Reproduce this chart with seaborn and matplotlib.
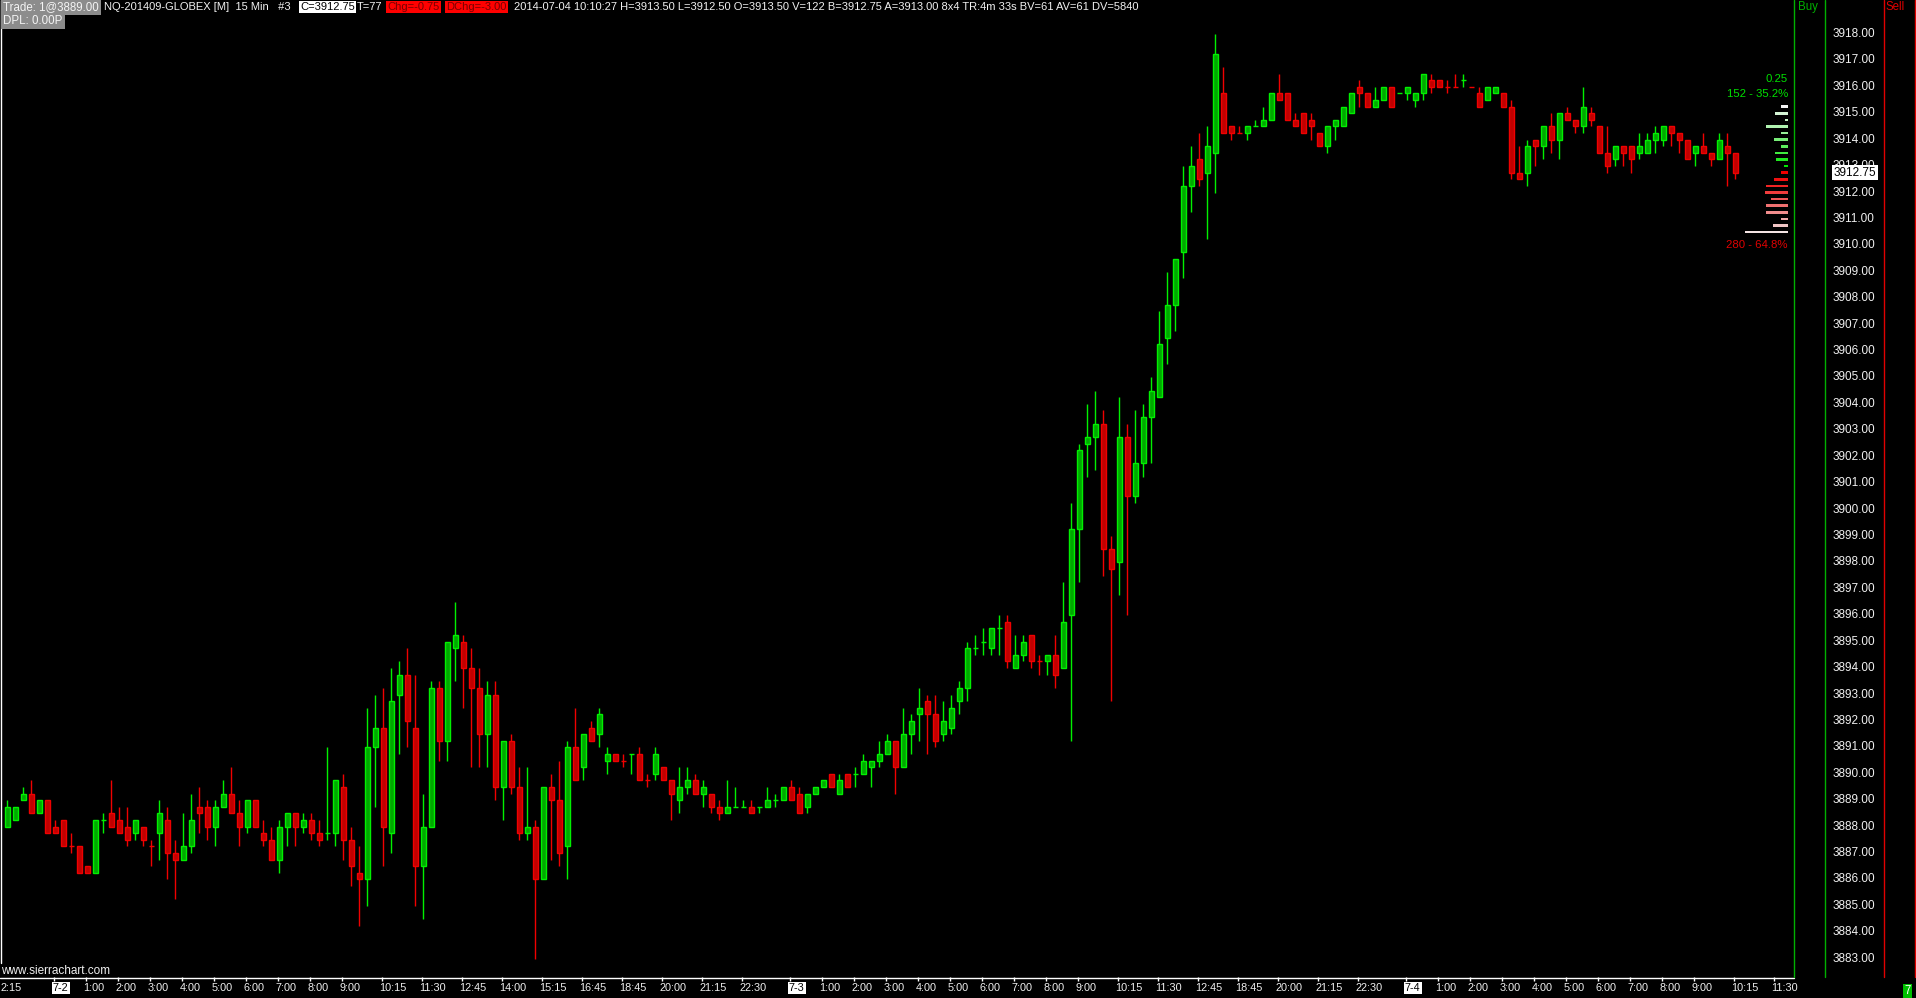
import numpy as np
import pandas as pd
import matplotlib
matplotlib.use("Agg")
import matplotlib.pyplot as plt
import seaborn as sns
from matplotlib.lines import Line2D

# ---------------- data (15-min bars, NQ-201409) ----------------
opens = [3888.0, 3888.25, 3889.0, 3889.25, 3888.5, 3889.0, 3888.0, 3888.25, 3887.25, 3887.25,
         3886.5, 3886.25, 3888.25, 3888.5, 3888.25, 3888.0, 3887.75, 3888.0, 3887.25, 3887.75,
         3888.25, 3887.0, 3886.75, 3887.25, 3888.75, 3888.75, 3888.0, 3888.75, 3889.25, 3888.5,
         3888.0, 3889.0, 3887.75, 3887.5, 3886.75, 3888.0, 3888.5, 3888.0, 3888.25, 3887.75,
         3887.75, 3887.75, 3889.5, 3887.5, 3886.25, 3886.0, 3891.0, 3891.75, 3887.75, 3893.0,
         3893.75, 3891.75, 3886.5, 3888.0, 3893.25, 3891.25, 3894.75, 3895.0, 3894.0, 3893.25,
         3891.5, 3893.0, 3889.5, 3891.25, 3889.5, 3887.75, 3888.0, 3886.0, 3889.5, 3889.0,
         3887.25, 3891.0, 3890.25, 3891.75, 3891.5, 3890.5, 3890.75, 3890.5, 3890.75, 3890.75,
         3889.75, 3890.0, 3890.25, 3889.75, 3889.0, 3889.5, 3889.75, 3889.25, 3889.25, 3888.75,
         3888.5, 3888.75, 3888.75, 3888.75, 3888.75, 3888.75, 3889.0, 3889.0, 3889.5, 3889.25,
         3888.75, 3889.25, 3889.5, 3890.0, 3889.25, 3890.0, 3890.0, 3890.0, 3890.25, 3890.5,
         3890.75, 3891.25, 3890.25, 3891.5, 3892.25, 3892.75, 3892.25, 3891.5, 3891.75, 3892.75,
         3893.25, 3894.75, 3895.0, 3894.75, 3895.5, 3895.75, 3894.0, 3894.5, 3895.25, 3894.25,
         3894.25, 3894.5, 3894.0, 3896.0, 3899.25, 3902.5, 3902.75, 3903.25, 3898.5, 3898.0,
         3902.75, 3900.5, 3901.75, 3903.5, 3904.25, 3906.5, 3907.75, 3909.75, 3912.25, 3913.25,
         3912.75, 3913.5, 3915.75, 3914.5, 3914.25, 3914.25, 3914.5, 3914.5, 3914.75, 3915.75,
         3915.75, 3914.75, 3915.0, 3914.75, 3914.25, 3913.75, 3914.5, 3914.5, 3915.0, 3916.0,
         3915.75, 3915.25, 3915.5, 3916.0, 3915.75, 3915.75, 3915.5, 3915.75, 3916.25, 3916.25,
         3916.0, 3916.0, 3916.25, 3916.0, 3915.75, 3915.5, 3915.75, 3915.75, 3915.25, 3912.75,
         3912.75, 3914.0, 3913.75, 3914.5, 3914.0, 3915.0, 3914.75, 3914.5, 3915.0, 3914.5,
         3913.5, 3913.25, 3913.75, 3913.75, 3913.5, 3913.5, 3914.0, 3914.0, 3914.5, 3914.25,
         3914.0, 3913.5, 3913.75, 3913.5, 3913.25, 3913.75, 3913.5]
highs = [3889.0, 3888.75, 3889.5, 3889.75, 3889.0, 3889.0, 3888.25, 3888.25, 3887.75, 3887.25,
         3886.5, 3888.25, 3888.5, 3889.75, 3888.75, 3888.75, 3888.25, 3888.0, 3887.5, 3889.0,
         3888.75, 3887.5, 3888.5, 3889.25, 3889.5, 3889.0, 3889.0, 3889.75, 3890.25, 3889.0,
         3889.0, 3889.0, 3888.25, 3888.0, 3888.25, 3888.5, 3888.5, 3888.5, 3888.5, 3888.25,
         3891.0, 3889.75, 3890.0, 3888.0, 3887.25, 3892.5, 3893.0, 3893.25, 3894.0, 3894.25,
         3894.75, 3893.75, 3889.25, 3893.5, 3893.5, 3895.0, 3896.5, 3895.25, 3894.75, 3894.0,
         3893.5, 3893.5, 3891.25, 3891.5, 3890.25, 3890.25, 3888.25, 3889.5, 3890.0, 3890.5,
         3891.25, 3892.5, 3891.5, 3892.0, 3892.5, 3891.0, 3890.75, 3890.75, 3890.75, 3891.0,
         3890.0, 3891.0, 3890.25, 3889.75, 3890.25, 3890.25, 3890.0, 3889.75, 3889.25, 3889.0,
         3889.75, 3889.5, 3889.0, 3889.0, 3888.75, 3889.5, 3889.25, 3889.5, 3889.75, 3889.5,
         3889.25, 3889.5, 3889.75, 3890.0, 3890.0, 3890.0, 3890.25, 3890.75, 3890.5, 3891.25,
         3891.5, 3891.25, 3892.5, 3892.25, 3893.25, 3893.0, 3893.0, 3892.75, 3893.0, 3893.5,
         3895.0, 3895.25, 3895.5, 3895.5, 3896.0, 3896.0, 3895.25, 3895.25, 3895.25, 3894.5,
         3894.5, 3895.25, 3897.25, 3900.25, 3902.5, 3904.0, 3904.5, 3903.75, 3899.0, 3904.25,
         3903.25, 3903.75, 3904.0, 3905.0, 3907.5, 3909.0, 3909.5, 3913.0, 3913.75, 3914.25,
         3914.5, 3918.0, 3916.75, 3914.5, 3914.5, 3914.5, 3914.75, 3915.25, 3915.75, 3916.5,
         3915.75, 3915.0, 3915.0, 3915.0, 3914.25, 3914.5, 3914.75, 3915.25, 3915.75, 3916.25,
         3915.75, 3916.0, 3916.0, 3916.0, 3915.75, 3916.0, 3915.75, 3916.5, 3916.5, 3916.25,
         3916.25, 3916.5, 3916.5, 3916.0, 3916.0, 3916.0, 3916.0, 3915.75, 3915.5, 3913.75,
         3914.0, 3914.0, 3914.5, 3915.0, 3915.0, 3915.25, 3914.75, 3916.0, 3915.25, 3914.5,
         3914.5, 3913.75, 3913.75, 3913.75, 3914.25, 3914.25, 3914.5, 3914.5, 3914.5, 3914.25,
         3914.0, 3913.75, 3914.25, 3913.5, 3914.25, 3914.25, 3913.5]
lows = [3888.0, 3888.25, 3889.0, 3888.5, 3888.5, 3887.75, 3887.75, 3887.25, 3887.0, 3886.25,
        3886.25, 3886.25, 3887.75, 3888.0, 3887.75, 3887.25, 3887.5, 3887.25, 3886.5, 3886.75,
        3886.0, 3885.25, 3886.75, 3887.0, 3887.75, 3887.5, 3887.25, 3888.75, 3888.5, 3887.25,
        3887.75, 3888.0, 3887.25, 3886.75, 3886.25, 3887.25, 3887.25, 3887.75, 3887.5, 3887.25,
        3887.5, 3887.25, 3886.75, 3885.75, 3884.25, 3885.0, 3888.75, 3886.5, 3887.0, 3890.75,
        3891.0, 3885.0, 3884.5, 3888.0, 3890.5, 3890.5, 3893.5, 3892.5, 3890.25, 3890.25,
        3890.25, 3889.0, 3888.25, 3889.25, 3887.5, 3887.5, 3883.0, 3886.0, 3886.75, 3886.5,
        3886.0, 3889.75, 3889.75, 3891.25, 3891.0, 3890.0, 3890.5, 3890.25, 3890.0, 3889.75,
        3889.5, 3889.75, 3889.75, 3888.25, 3888.5, 3889.25, 3889.25, 3888.75, 3888.5, 3888.25,
        3888.5, 3888.75, 3888.75, 3888.5, 3888.5, 3888.75, 3888.75, 3889.0, 3889.0, 3888.5,
        3888.5, 3889.25, 3889.5, 3889.5, 3889.25, 3889.5, 3889.5, 3890.0, 3889.5, 3890.25,
        3890.75, 3889.25, 3890.25, 3890.75, 3891.25, 3890.75, 3891.0, 3891.25, 3891.5, 3892.25,
        3892.75, 3894.5, 3894.5, 3894.5, 3894.5, 3894.0, 3894.0, 3894.25, 3894.0, 3893.75,
        3893.75, 3893.25, 3894.0, 3891.25, 3897.25, 3901.25, 3901.5, 3897.5, 3892.75, 3896.75,
        3896.0, 3900.25, 3901.25, 3901.75, 3904.25, 3905.5, 3906.75, 3908.75, 3911.25, 3912.25,
        3910.25, 3912.0, 3914.25, 3914.0, 3914.25, 3914.0, 3914.5, 3914.5, 3914.75, 3915.5,
        3914.75, 3914.5, 3914.25, 3914.0, 3913.75, 3913.5, 3914.0, 3914.5, 3915.0, 3915.25,
        3915.25, 3915.25, 3915.5, 3915.25, 3915.75, 3915.5, 3915.25, 3915.5, 3915.75, 3916.0,
        3915.75, 3916.0, 3916.0, 3916.0, 3915.25, 3915.5, 3915.75, 3915.25, 3912.5, 3912.5,
        3912.25, 3913.0, 3913.25, 3913.5, 3913.25, 3914.75, 3914.25, 3914.25, 3914.5, 3913.5,
        3912.75, 3913.0, 3913.0, 3912.75, 3913.25, 3913.5, 3913.5, 3913.75, 3913.75, 3913.5,
        3913.25, 3913.0, 3913.5, 3913.0, 3913.25, 3912.25, 3912.5]
closes = [3888.75, 3888.75, 3889.25, 3888.5, 3889.0, 3887.75, 3887.75, 3887.25, 3887.25, 3886.25,
          3886.25, 3888.25, 3888.25, 3888.0, 3887.75, 3887.5, 3888.25, 3887.5, 3887.25, 3888.5,
          3887.0, 3886.75, 3887.25, 3888.25, 3888.5, 3888.0, 3888.75, 3889.25, 3888.5, 3888.0,
          3889.0, 3888.0, 3887.5, 3886.75, 3888.0, 3888.5, 3888.0, 3888.25, 3887.75, 3887.5,
          3887.75, 3889.75, 3887.5, 3886.5, 3886.0, 3891.0, 3891.75, 3888.0, 3892.75, 3893.75,
          3892.0, 3886.5, 3888.0, 3893.25, 3891.25, 3895.0, 3895.25, 3894.0, 3893.25, 3891.5,
          3893.0, 3889.5, 3891.25, 3889.5, 3887.75, 3888.0, 3886.0, 3889.5, 3889.0, 3887.0,
          3891.0, 3889.75, 3891.5, 3891.25, 3892.25, 3890.75, 3890.5, 3890.5, 3890.75, 3889.75,
          3889.75, 3890.75, 3889.75, 3889.25, 3889.5, 3889.75, 3889.25, 3889.5, 3888.75, 3888.5,
          3888.75, 3888.75, 3888.75, 3888.5, 3888.75, 3889.0, 3889.0, 3889.5, 3889.0, 3888.5,
          3889.25, 3889.5, 3889.75, 3889.5, 3889.75, 3889.5, 3890.0, 3890.5, 3890.5, 3890.75,
          3891.25, 3890.25, 3891.5, 3892.0, 3892.5, 3892.25, 3891.25, 3892.0, 3892.5, 3893.25,
          3894.75, 3894.75, 3895.0, 3895.5, 3895.5, 3894.25, 3894.5, 3895.0, 3894.25, 3894.25,
          3894.5, 3893.75, 3895.75, 3899.25, 3902.25, 3902.75, 3903.25, 3898.5, 3897.75, 3902.75,
          3900.5, 3901.75, 3903.5, 3904.5, 3906.25, 3907.75, 3909.5, 3912.25, 3913.0, 3912.5,
          3913.75, 3917.25, 3914.25, 3914.25, 3914.25, 3914.5, 3914.5, 3914.75, 3915.75, 3915.5,
          3914.75, 3914.5, 3914.25, 3914.5, 3913.75, 3914.5, 3914.75, 3915.25, 3915.75, 3915.75,
          3915.25, 3915.5, 3916.0, 3915.25, 3915.75, 3916.0, 3915.75, 3916.5, 3916.0, 3916.0,
          3916.0, 3916.0, 3916.25, 3916.0, 3915.25, 3916.0, 3916.0, 3915.25, 3912.75, 3912.5,
          3913.75, 3913.75, 3914.5, 3914.0, 3915.0, 3914.75, 3914.5, 3915.25, 3914.75, 3913.5,
          3913.0, 3913.75, 3913.5, 3913.25, 3913.75, 3914.0, 3914.25, 3914.5, 3914.25, 3914.0,
          3913.25, 3913.75, 3913.5, 3913.25, 3914.0, 3913.5, 3912.75]
doji_green = [12, 40, 78, 91, 92, 94, 96, 106, 121, 122, 124, 156, 174, 182]

time_idx = [-1, 6, 10, 14, 18, 22, 26, 30, 34, 38, 42, 47, 52, 57, 62, 67, 72, 77, 82, 87, 92,
            98, 102, 106, 110, 114, 118, 122, 126, 130, 134, 139, 144, 149, 154, 159, 164, 169,
            175, 179, 183, 187, 191, 195, 199, 203, 207, 211, 216, 221]
time_labels = ["2:15", "7-2", "1:00", "2:00", "3:00", "4:00", "5:00", "6:00", "7:00", "8:00",
               "9:00", "10:15", "11:30", "12:45", "14:00", "15:15", "16:45", "18:45", "20:00",
               "21:15", "22:30", "7-3", "1:00", "2:00", "3:00", "4:00", "5:00", "6:00", "7:00",
               "8:00", "9:00", "10:15", "11:30", "12:45", "18:45", "20:00", "21:15", "22:30",
               "7-4", "1:00", "2:00", "3:00", "4:00", "5:00", "6:00", "7:00", "8:00", "9:00",
               "10:15", "11:30"]
price_ticks = list(range(3883, 3919))
last_price = 3912.75

profile_prices = [3915.25, 3915.0, 3914.75, 3914.5, 3914.25, 3914.0, 3913.75, 3913.5, 3913.25, 3913.0,
                  3912.75, 3912.5, 3912.25, 3912.0, 3911.75, 3911.5, 3911.25, 3911.0, 3910.75, 3910.5]
profile_vols = [10, 19, 5, 32, 11, 21, 11, 19, 18, 6,
                10, 20, 32, 34, 25, 32, 32, 10, 22, 63]

header_text = ("2014-07-04 10:10:27 H=3913.50 L=3912.50 O=3913.50 V=122 B=3912.75 A=3913.00 "
               "8x4 TR:4m 33s BV=61 AV=61 DV=5840")

# ---------------- figure ----------------
W, H = 1916, 998
sns.set_theme(style="dark")
plt.rcParams['font.family'] = ['Liberation Sans', 'DejaVu Sans']
plt.rcParams['axes.grid'] = False

fig = plt.figure(figsize=(W / 100, H / 100), dpi=100, facecolor='black')

def fx(x):
    return x / W

def fy(y):
    return 1 - y / H

AX_BOTTOM = 977
ylim = (3918 - (AX_BOTTOM - 34) / 26.42, 3918 + 34 / 26.42)
xlim = ((0 - 7.33) / 8, (1793 - 7.33) / 8)

ax = fig.add_axes([0, fy(AX_BOTTOM), fx(1793), AX_BOTTOM / H])
ax.set_facecolor('black')
ax.set_xlim(*xlim)
ax.set_ylim(*ylim)
for s in ax.spines.values():
    s.set_visible(False)
ax.set_xticks([])
ax.set_yticks([])

df = pd.DataFrame({'o': opens, 'h': highs, 'l': lows, 'c': closes})
df['i'] = np.arange(len(df))
up = (df.c > df.o) | ((df.c == df.o) & df.i.isin(doji_green))
G_EDGE, G_FILL = '#00f000', '#00a800'
R_EDGE, R_FILL = '#f00000', '#c00000'
df['edge'] = np.where(up, G_EDGE, R_EDGE)
df['fill'] = np.where(up, G_FILL, R_FILL)

ax.vlines(df.i, df.l, df.h, colors=df.edge, lw=1.0, zorder=2)
body = df[df.c != df.o]
ax.bar(body.i, (body.c - body.o).abs(), bottom=np.minimum(body.o, body.c), width=0.58,
       color=body.fill, edgecolor=body.edge, linewidth=1.0, zorder=3)
doji = df[df.c == df.o]
ax.hlines(doji.c, doji.i - 0.34, doji.i + 0.34, colors=doji.edge, lw=1.0, zorder=3)

# time axis labels
xt = ax.get_xaxis_transform()
for i, lab in zip(time_idx, time_labels):
    x0 = max(i - 0.5, xlim[0] + 0.1)
    if '-' in lab:
        ax.text(i - 0.3, -0.0113, lab, transform=xt, ha='left', va='center', fontsize=7.8,
                color='black', clip_on=False,
                bbox=dict(boxstyle='square,pad=0.12', fc='white', ec='none'))
    else:
        ax.text(x0, -0.0113, lab, transform=xt, ha='left', va='center', fontsize=7.8,
                color='#f0f0f0', clip_on=False)
    if i >= 0:
        ax.vlines(i - 0.2, -0.004, 0, transform=xt, colors='white', lw=1, clip_on=False)

# volume profile (bid/ask at price)
axv = fig.add_axes([fx(1700), fy(AX_BOTTOM), fx(88), AX_BOTTOM / H])
prof = pd.DataFrame({'price': profile_prices, 'vol': profile_vols})
prof['lev'] = [f"{p:.2f}" for p in prof.price]
greens = ['#f4f4f4', '#d4f4d4', '#c4f4c4', '#b0f2b0', '#98f098', '#78ee78', '#5cec5c', '#40ea40',
          '#20e820', '#00e800']
reds = ['#f00000', '#f01010', '#f02424', '#f03c3c', '#f05858', '#f07070', '#f08c8c', '#f0a8a8',
        '#f0c4c4', '#f4e4e4']
pal = dict(zip(prof.lev, greens + reds))
sns.barplot(data=prof, x='vol', y='price', hue='lev', palette=pal, orient='y', native_scale=True,
            width=0.38, dodge=False, legend=False, errorbar=None, saturation=1,
            edgecolor='none', linewidth=0, ax=axv)
axv.set_xlim(88 / 0.68, 0)
axv.set_ylim(*ylim)
axv.set_axis_off()
ytv = axv.get_yaxis_transform()
axv.text(1, 3915.75 + 0.55, "0.25", ha='right', va='center', color='#00e000', fontsize=8.2,
         transform=ytv)
axv.text(1, 3915.72, "152 - 35.2%", ha='right', va='center', color='#00e000', fontsize=8.2,
         transform=ytv)
axv.text(1, 3910.0, "280 - 64.8%", ha='right', va='center', color='#e00000', fontsize=8.2,
         transform=ytv)

# price scale
axp = fig.add_axes([fx(1793), fy(AX_BOTTOM), fx(W - 1793), AX_BOTTOM / H])
axp.set_xlim(1793, W)
axp.set_ylim(*ylim)
axp.set_axis_off()
for p in price_ticks:
    axp.text(1833, p, f"{p:.2f}", ha='left', va='center', color='#f0f0f0', fontsize=8.5)
axp.text(1833.5, last_price, f"{last_price:.2f}", ha='left', va='center', color='black',
         fontsize=8.5, bbox=dict(boxstyle='square,pad=0.12', fc='white', ec='none'), zorder=5)

# frame lines
def fline(x0, y0, x1, y1, c, lw=1.0):
    fig.add_artist(Line2D([fx(x0), fx(x1)], [fy(y0), fy(y1)], color=c, lw=lw))

fline(0.5, 0, 0.5, 963, 'white')
fline(0, AX_BOTTOM + 0.5, 1794, AX_BOTTOM + 0.5, 'white')
fline(1793.5, 0, 1793.5, AX_BOTTOM, '#00b000')
fline(1824.5, 0, 1824.5, AX_BOTTOM, '#00b000')
fline(1883.5, 0, 1883.5, AX_BOTTOM, '#e00000')
fline(1914.5, 0, 1914.5, AX_BOTTOM, '#e00000')

# header texts
def htext(x, y, s, color='#f0f0f0', bg=None, size=8, pad=0.12):
    kw = {}
    if bg is not None:
        kw['bbox'] = dict(boxstyle=f'square,pad={pad}', fc=bg, ec='none')
    fig.text(fx(x), fy(y), s, ha='left', va='center', color=color, fontsize=size, **kw)

htext(3, 7, "Trade: 1@3889.00", color='#f4f4f4', bg='#8c8c8c', size=8.3, pad=0.2)
htext(104, 7, "NQ-201409-GLOBEX [M]  15 Min   #3")
htext(300, 7, "C=3912.75", color='black', bg='white')
htext(357, 7, "T=77")
htext(387, 7, "Chg=-0.75", color='#780000', bg='#ff0000')
htext(446, 7, "DChg=-3.00", color='#780000', bg='#ff0000')
htext(514, 7, header_text)
htext(3, 21, "DPL: 0.00P", color='#f4f4f4', bg='#8c8c8c', size=8.3, pad=0.2)
htext(1798, 7, "Buy", color='#00b000', size=8.3)
htext(1885, 7, "Sell", color='#e00000', size=8.3)
htext(1, 971, "www.sierrachart.com", size=8.5)
htext(1904, 991, "7", color='white', bg='#00c000', size=8.3)

fig.savefig("out.png", dpi=100, facecolor='black')
